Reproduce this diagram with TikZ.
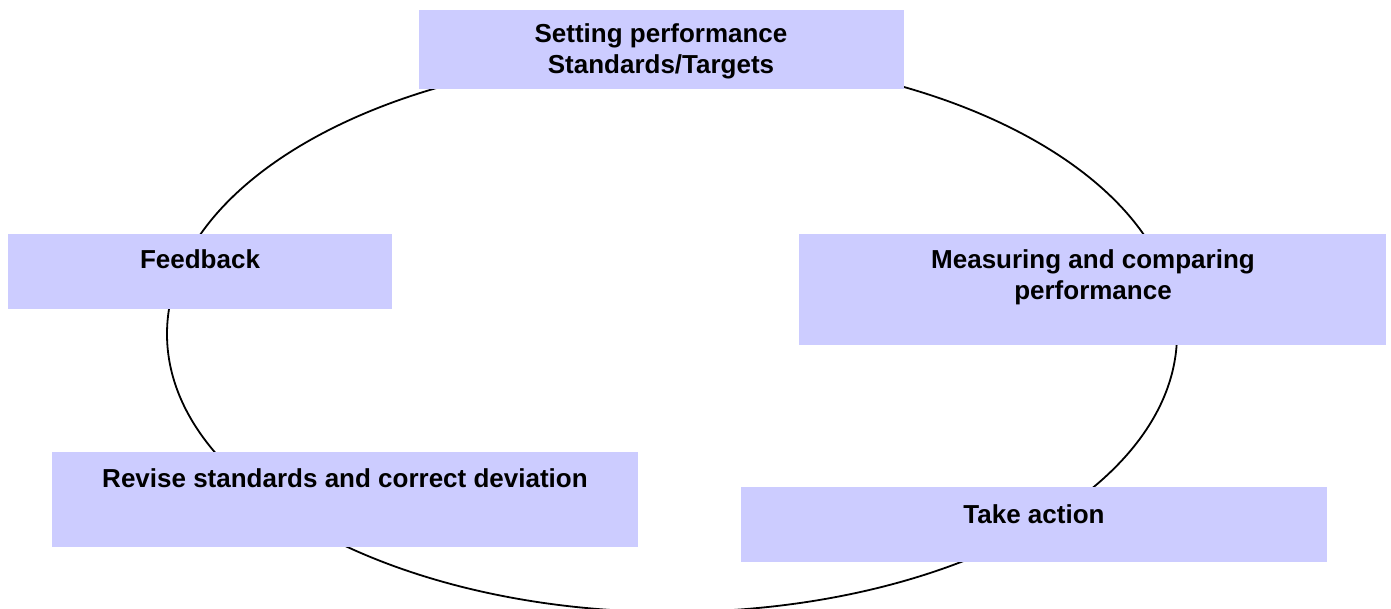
\documentclass[tikz,border=0pt]{standalone}
\usepackage{fontspec}
\setmainfont{Liberation Sans}
\definecolor{boxfill}{RGB}{204,204,255}
\begin{document}
\begin{tikzpicture}[x=1pt,y=-1pt,
  box/.style={fill=boxfill, draw=none, anchor=north west, inner sep=0pt, outer sep=0pt},
  label/.style={anchor=base, align=center, inner sep=0pt, font=\bfseries\fontsize{26}{31}\selectfont}]
\useasboundingbox (0,0) rectangle (1391,609);
\draw[line width=1.8pt] (672,334) ellipse [x radius=505, y radius=278];
\node[box, minimum width=485pt, minimum height=79pt] (set) at (419,10) {};
\node[box, minimum width=384pt, minimum height=75pt] (fb) at (8,234) {};
\node[box, minimum width=587pt, minimum height=111pt] (meas) at (799,234) {};
\node[box, minimum width=586pt, minimum height=95pt] (rev) at (52,452) {};
\node[box, minimum width=586pt, minimum height=75pt] (take) at (741,487) {};
\node[label] (setT) at (661,74) {Setting performance\\Standards/Targets};
\node[label] (fbT) at (200,269) {Feedback};
\node[label] (measT) at (1093,300) {Measuring and comparing\\performance};
\node[label] (revT) at (345,487) {Revise standards and correct deviation};
\node[label] (takeT) at (1034,523) {Take action};
\end{tikzpicture}
\end{document}
